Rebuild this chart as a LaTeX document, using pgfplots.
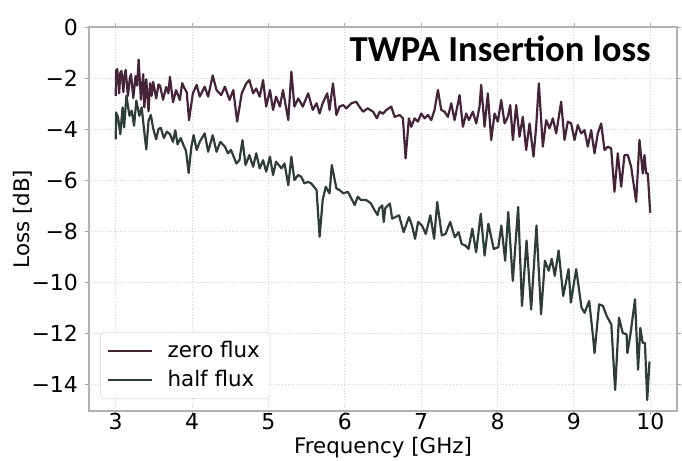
\documentclass[border=0pt]{standalone}
\usepackage{pgfplots}
\pgfplotsset{compat=1.18}
\usetikzlibrary{calc}
\usepackage{fontspec}
\setmainfont{DejaVu Sans}
\newfontfamily\titlefont{Carlito}
\definecolor{zeroc}{RGB}{70,36,56}
\definecolor{halfc}{RGB}{46,62,55}
\newcommand{\tfs}{\fontsize{11}{13}\selectfont}
\newcommand{\lfs}{\fontsize{10.7}{12.5}\selectfont}
\begin{document}
\begin{tikzpicture}
\begin{axis}[
  width=294pt, height=192pt, scale only axis,
  xmin=2.65, xmax=10.35, ymin=-15.05, ymax=0,
  xtick={3,4,5,6,7,8,9,10}, xticklabels={3,4,5,6,7,8,9,10},
  ytick={-14,-12,-10,-8,-6,-4,-2,0},
  yticklabels={−14,−12,−10,−8,−6,−4,−2,0},
  tick align=outside, major tick length=2pt,
  tick style={gray!70, line width=0.4pt},
  axis line style={gray!60, line width=0.6pt},
  grid=major, major grid style={gray!35, densely dotted, line width=0.5pt},
  ticklabel style={font=\tfs},
  xticklabel style={yshift=4.5pt},
  label style={font=\lfs},
  xlabel={Frequency [GHz]}, ylabel={Loss [dB]},
  xlabel style={at={(axis description cs:0.5,-0.095)}, anchor=center},
  ylabel style={at={(axis description cs:-0.112,0.5)}, anchor=center},
  legend style={at={(axis description cs:0.019,0.031)}, anchor=south west,
    draw=gray!25, rounded corners=2pt, fill=white, fill opacity=0.8, text opacity=1,
    font=\lfs, inner xsep=3pt, inner ysep=2.5pt, row sep=1pt,
    /tikz/every odd column/.append style={column sep=5.5pt}},
  legend cell align=left,
  legend image code/.code={\draw[#1, line width=1pt] (0pt,0pt) -- (22pt,0pt);},
  every axis plot/.append style={line width=1.1pt, line join=round},
]
\addplot[zeroc] coordinates {
(3.000,-2.70) (3.005,-1.70) (3.020,-1.65) (3.045,-2.60) (3.060,-1.80) (3.075,-1.72)
(3.100,-2.55) (3.115,-1.90) (3.130,-1.68) (3.160,-2.70) (3.185,-2.00) (3.200,-1.85)
(3.230,-2.78) (3.260,-1.92) (3.280,-2.30) (3.300,-1.28) (3.330,-2.85) (3.360,-1.85)
(3.375,-3.15) (3.400,-2.05) (3.430,-3.30) (3.450,-2.20) (3.470,-2.70) (3.490,-2.15)
(3.530,-2.80) (3.560,-2.25) (3.580,-2.30) (3.620,-2.85) (3.660,-2.35) (3.690,-2.60)
(3.710,-1.95) (3.750,-2.95) (3.790,-2.47) (3.840,-2.86) (3.870,-2.20) (3.900,-2.40)
(3.930,-2.55) (3.960,-3.65) (4.010,-2.60) (4.060,-2.27) (4.100,-2.73) (4.165,-2.34)
(4.210,-2.73) (4.270,-1.90) (4.320,-2.47) (4.380,-2.67) (4.430,-2.34) (4.490,-2.86)
(4.540,-2.47) (4.590,-3.71) (4.650,-2.60) (4.710,-2.21) (4.750,-2.08) (4.800,-2.60)
(4.840,-2.41) (4.885,-2.73) (4.930,-2.08) (4.970,-3.12) (5.020,-2.47) (5.060,-3.25)
(5.100,-2.73) (5.150,-3.12) (5.190,-2.47) (5.260,-3.65) (5.300,-1.75) (5.340,-3.12)
(5.390,-2.80) (5.450,-3.12) (5.520,-2.60) (5.580,-3.25) (5.630,-2.99) (5.670,-3.39)
(5.710,-2.99) (5.770,-2.60) (5.800,-3.25) (5.845,-2.21) (5.890,-3.45) (5.930,-3.12)
(5.980,-3.06) (6.020,-3.19) (6.085,-2.99) (6.150,-2.93) (6.190,-3.12) (6.240,-3.32)
(6.300,-3.19) (6.370,-3.32) (6.420,-3.58) (6.456,-3.32) (6.500,-3.40) (6.543,-3.25)
(6.608,-3.12) (6.652,-3.52) (6.717,-3.45) (6.761,-3.58) (6.796,-5.15) (6.839,-3.58)
(6.870,-3.91) (6.914,-3.58) (6.957,-3.71) (7.001,-3.39) (7.045,-3.58) (7.088,-3.45)
(7.132,-3.65) (7.175,-3.25) (7.219,-2.47) (7.263,-3.25) (7.306,-3.32) (7.350,-3.52)
(7.394,-2.99) (7.437,-3.65) (7.503,-2.67) (7.546,-3.91) (7.590,-3.39) (7.625,-3.65)
(7.677,-3.32) (7.721,-3.78) (7.764,-3.12) (7.786,-2.27) (7.830,-3.91) (7.873,-2.60)
(7.917,-4.43) (7.961,-3.39) (8.004,-3.71) (8.048,-2.86) (8.092,-3.78) (8.135,-3.52)
(8.166,-3.06) (8.201,-4.43) (8.244,-3.06) (8.288,-4.30) (8.331,-3.52) (8.375,-4.82)
(8.419,-3.78) (8.471,-5.08) (8.506,-3.91) (8.541,-2.21) (8.593,-4.69) (8.637,-3.65)
(8.681,-3.97) (8.724,-3.58) (8.768,-4.17) (8.833,-2.93) (8.877,-4.43) (8.920,-3.71)
(8.964,-3.78) (9.008,-4.43) (9.051,-3.84) (9.095,-4.17) (9.139,-4.04) (9.182,-4.69)
(9.226,-4.04) (9.270,-4.95) (9.313,-4.17) (9.357,-3.78) (9.401,-4.82) (9.444,-4.69)
(9.488,-4.76) (9.531,-6.46) (9.575,-4.95) (9.619,-6.26) (9.662,-5.02) (9.706,-5.02)
(9.750,-5.48) (9.815,-6.85) (9.859,-4.43) (9.902,-5.74) (9.924,-5.02) (9.946,-5.74)
(9.968,-5.74) (9.999,-7.28)
};
\addlegendentry{zero flux}
\addplot[halfc] coordinates {
(3.000,-4.40) (3.005,-3.35) (3.030,-3.54) (3.060,-4.20) (3.090,-3.15) (3.110,-3.93)
(3.140,-2.70) (3.180,-3.48) (3.210,-3.28) (3.240,-3.87) (3.270,-2.89) (3.310,-3.48)
(3.340,-3.15) (3.370,-4.00) (3.400,-4.80) (3.430,-3.67) (3.460,-3.45) (3.490,-3.97)
(3.530,-4.40) (3.560,-4.00) (3.590,-3.95) (3.630,-4.35) (3.670,-4.10) (3.710,-4.20)
(3.750,-4.50) (3.780,-4.05) (3.810,-4.60) (3.850,-4.35) (3.890,-4.65) (3.920,-4.85)
(3.955,-5.72) (3.990,-4.70) (4.020,-4.24) (4.060,-4.82) (4.100,-4.50) (4.165,-4.17)
(4.210,-4.89) (4.270,-4.24) (4.320,-4.89) (4.370,-4.50) (4.430,-4.69) (4.470,-4.95)
(4.510,-4.82) (4.580,-5.35) (4.620,-5.22) (4.660,-4.43) (4.700,-5.41) (4.750,-5.02)
(4.800,-5.48) (4.840,-4.95) (4.885,-5.54) (4.930,-5.22) (4.970,-5.67) (5.020,-5.08)
(5.060,-5.80) (5.100,-5.28) (5.170,-5.54) (5.210,-5.35) (5.260,-6.20) (5.300,-5.08)
(5.340,-6.00) (5.390,-5.80) (5.430,-5.87) (5.470,-6.13) (5.520,-6.07) (5.560,-6.13)
(5.630,-6.39) (5.670,-8.22) (5.710,-6.78) (5.750,-6.26) (5.800,-6.52) (5.830,-5.41)
(5.890,-6.33) (5.930,-6.39) (5.980,-6.52) (6.040,-6.46) (6.085,-6.72) (6.130,-6.98)
(6.170,-6.65) (6.210,-6.78) (6.280,-6.78) (6.340,-6.91) (6.390,-7.18) (6.430,-7.37)
(6.448,-7.12) (6.490,-6.99) (6.510,-7.64) (6.530,-7.10) (6.590,-6.92) (6.620,-7.51)
(6.710,-7.38) (6.770,-8.04) (6.840,-7.45) (6.880,-7.78) (6.920,-8.30) (6.960,-7.64)
(7.010,-7.78) (7.060,-8.11) (7.120,-7.38) (7.170,-8.30) (7.210,-6.86) (7.270,-8.17)
(7.320,-8.11) (7.380,-7.64) (7.440,-8.24) (7.490,-8.04) (7.530,-8.50) (7.580,-8.57)
(7.620,-8.70) (7.670,-7.91) (7.720,-8.83) (7.780,-7.32) (7.830,-8.96) (7.880,-7.71)
(7.950,-8.70) (8.010,-8.63) (8.050,-7.78) (8.100,-9.16) (8.140,-7.25) (8.200,-9.95)
(8.270,-7.05) (8.320,-10.93) (8.380,-8.37) (8.440,-11.07) (8.510,-7.78) (8.570,-11.26)
(8.620,-9.16) (8.670,-9.55) (8.710,-9.09) (8.750,-9.75) (8.800,-8.76) (8.860,-10.54)
(8.930,-9.49) (8.960,-10.80) (9.030,-9.49) (9.100,-11.00) (9.140,-11.20) (9.200,-10.74)
(9.250,-12.12) (9.270,-12.78) (9.330,-10.87) (9.380,-10.93) (9.430,-11.33) (9.490,-11.66)
(9.540,-14.22) (9.590,-11.39) (9.640,-11.99) (9.690,-12.05) (9.700,-12.78) (9.740,-12.05)
(9.800,-10.67) (9.840,-13.43) (9.870,-11.79) (9.900,-12.38) (9.930,-12.38) (9.960,-14.62)
(9.990,-13.11)
};
\addlegendentry{half flux}
\node[anchor=base east, font=\titlefont\bfseries\fontsize{18.3}{20}\selectfont, inner sep=0pt]
  at (axis description cs:0.956,0.909) {TWPA Insertion loss};
\coordinate (sw) at (rel axis cs:0,0);
\coordinate (ne) at (rel axis cs:1,1);
\end{axis}
\pgfresetboundingbox
\path[use as bounding box] ($(sw)+(-44.5pt,-24.5pt)$) rectangle ($(ne)+(2.5pt,13.5pt)$);
\end{tikzpicture}
\end{document}
